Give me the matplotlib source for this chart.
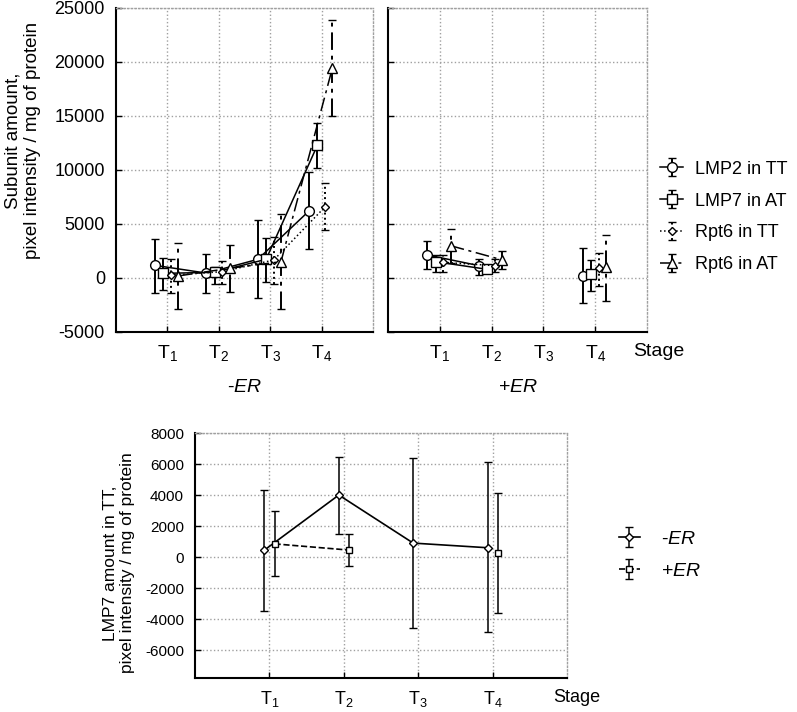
import numpy as np
import matplotlib
matplotlib.use("Agg")
import matplotlib.pyplot as plt

plt.rcParams['font.family'] = ['Liberation Sans', 'DejaVu Sans']
plt.rcParams['mathtext.fontset'] = 'custom'
plt.rcParams['mathtext.rm'] = 'Liberation Sans'
plt.rcParams['mathtext.it'] = 'Liberation Sans:italic'

# ---- data ----
stages = [1, 2, 3, 4]
stage_labels = [r'T$_1$', r'T$_2$', r'T$_3$', r'T$_4$']
series_names = ['LMP2 in TT', 'LMP7 in AT', 'Rpt6 in TT', 'Rpt6 in AT']

# -ER panel: means, upper and lower error bar ends
minus_mean = [[1170, 450, 1730, 6230],
              [430, 525, 1730, 12310],
              [250, 590, 1670, 6600],
              [190, 900, 1510, 19450]]
minus_hi = [[3640, 2220, 5370, 9790],
            [1820, 1050, 3670, 14320],
            [1730, 1600, 3770, 8770],
            [3270, 3060, 5930, 23900]]
minus_lo = [[-1420, -1420, -1820, 2660],
            [-1110, -555, -400, 10150],
            [-1420, -555, -555, 4440],
            [-2900, -1330, -2900, 15000]]

# +ER panel (no T3 data)
plus_mean = [[2130, 1140, np.nan, 215],
             [1510, 800, np.nan, 340],
             [1450, 1140, np.nan, 950],
             [2990, 1670, np.nan, 1050]]
plus_hi = [[3450, 1730, np.nan, 2750],
           [2130, 1150, np.nan, 1670],
           [2130, 1790, np.nan, 2290],
           [4540, 2530, np.nan, 3980]]
plus_lo = [[800, 280, np.nan, -2340],
           [590, 480, np.nan, -1200],
           [590, 590, np.nan, -740],
           [1360, 800, np.nan, -2130]]

# LMP7 in TT
lmp7_names = [r'-$\mathit{ER}$', r'+$\mathit{ER}$']
lmp7_mean = [[450, 4000, 900, 600],
             [850, 450, np.nan, 250]]
lmp7_hi = [[4300, 6450, 6400, 6100],
           [2950, 1500, np.nan, 4150]]
lmp7_lo = [[-3450, 1500, -4600, -4850],
           [-1200, -600, np.nan, -3600]]

# ---- styles ----
offsets = [-0.24, -0.08, 0.07, 0.21]
markers = ['o', 's', 'D', '^']
msizes = [7, 6.5, 4.5, 6.5]
lstyles = ['-', '-', ':', (0, (9, 3, 2, 3))]


def style_axes(ax, ylim, yticks, show_ylabels=True, fs=13):
    ax.set_xlim(0, 5)
    ax.set_ylim(*ylim)
    ax.set_xticks(stages)
    ax.set_xticklabels(stage_labels, fontsize=fs + 1)
    ax.set_yticks(yticks)
    if show_ylabels:
        ax.set_yticklabels([str(v) for v in yticks], fontsize=fs)
    else:
        ax.set_yticklabels([])
    ax.tick_params(direction='in', length=4, width=1, pad=8)
    ax.grid(True, color='#a0a0a0', linestyle=':', linewidth=1)
    for s in ['top', 'right']:
        ax.spines[s].set_color('#a0a0a0')
        ax.spines[s].set_linestyle(':')
        ax.spines[s].set_linewidth(1)
    for s in ['left', 'bottom']:
        ax.spines[s].set_linewidth(1.5)


def draw_series(ax, means, his, los, x_off, mk, ms, ls, label=None):
    x = np.array(stages) + x_off
    m = np.array(means, dtype=float)
    err = [m - np.array(los, dtype=float), np.array(his, dtype=float) - m]
    eb = ax.errorbar(x, m, yerr=err, color='black', marker=mk, markersize=ms,
                     markerfacecolor='white', markeredgecolor='black',
                     markeredgewidth=1, linestyle=ls, linewidth=1.1,
                     capsize=3, capthick=1.2, elinewidth=1.4, label=label)
    eb[2][0].set_linestyle(ls if ls != '-' else 'solid')
    return eb


fig = plt.figure(figsize=(7.97, 7.12), dpi=100)

ax1 = fig.add_axes([116 / 797, 1 - 332 / 712, 257 / 797, 324 / 712])
ax2 = fig.add_axes([388 / 797, 1 - 332 / 712, 259 / 797, 324 / 712])
ax3 = fig.add_axes([195 / 797, 1 - 678 / 712, 372 / 797, 245 / 712])

top_ticks = list(range(-5000, 25001, 5000))
style_axes(ax1, (-5000, 25000), top_ticks)
style_axes(ax2, (-5000, 25000), top_ticks, show_ylabels=False)

handles = []
for i in range(4):
    draw_series(ax1, minus_mean[i], minus_hi[i], minus_lo[i], offsets[i],
                markers[i], msizes[i], lstyles[i])
    h = draw_series(ax2, plus_mean[i], plus_hi[i], plus_lo[i], offsets[i],
                    markers[i], msizes[i], lstyles[i], label=series_names[i])
    handles.append(h)

ax1.set_ylabel('Subunit amount,\npixel intensity / mg of protein', fontsize=13.5)
ax1.yaxis.set_label_coords(-0.29, 0.59)
ax1.annotate(r'-$\mathit{ER}$', xy=(2.5, 0), xycoords=('data', 'axes fraction'),
             xytext=(0, -34), textcoords='offset points', ha='center', va='top',
             fontsize=14, annotation_clip=False)
ax2.annotate(r'+$\mathit{ER}$', xy=(2.5, 0), xycoords=('data', 'axes fraction'),
             xytext=(0, -34), textcoords='offset points', ha='center', va='top',
             fontsize=14, annotation_clip=False)
ax2.annotate('Stage', xy=(4.73, 0), xycoords=('data', 'axes fraction'),
             xytext=(0, -8), textcoords='offset points', ha='left', va='top',
             fontsize=14, annotation_clip=False)

fig.legend(handles=handles, labels=series_names, loc='center left',
           bbox_to_anchor=(644 / 797, 1 - 217 / 712), frameon=False, fontsize=13,
           handlelength=1.25, labelspacing=0.82, handletextpad=0.65)

# ---- bottom panel ----
bot_ticks = list(range(-6000, 8001, 2000))
style_axes(ax3, (-7800, 8000), bot_ticks, fs=11)
ax3.set_xticklabels(stage_labels, fontsize=13)

b_off = [-0.067, 0.07]
b_mk = ['D', 's']
b_ms = [4.5, 5]
b_ls = ['-', '--']
bh = []
for i in range(2):
    x = np.array(stages) + b_off[i]
    m = np.array(lmp7_mean[i], dtype=float)
    err = [m - np.array(lmp7_lo[i], dtype=float), np.array(lmp7_hi[i], dtype=float) - m]
    eb = ax3.errorbar(x, m, yerr=err, color='black', marker=b_mk[i], markersize=b_ms[i],
                      markerfacecolor='white', markeredgecolor='black',
                      markeredgewidth=1, linestyle=b_ls[i], linewidth=1.2,
                      capsize=3, capthick=1, elinewidth=1.1)
    bh.append(eb)

ax3.set_ylabel('LMP7 amount in TT,\npixel intensity / mg of protein', fontsize=12.5)
ax3.yaxis.set_label_coords(-0.16, 0.47)
ax3.annotate('Stage', xy=(4.81, 0), xycoords=('data', 'axes fraction'),
             xytext=(0, -8), textcoords='offset points', ha='left', va='top',
             fontsize=13, annotation_clip=False)

fig.legend(handles=bh, labels=lmp7_names, loc='center left',
           bbox_to_anchor=(601 / 797, 1 - 555 / 712), frameon=False, fontsize=14,
           handlelength=1.1, labelspacing=0.75, handletextpad=1.1)

fig.savefig('out.png', dpi=100)
